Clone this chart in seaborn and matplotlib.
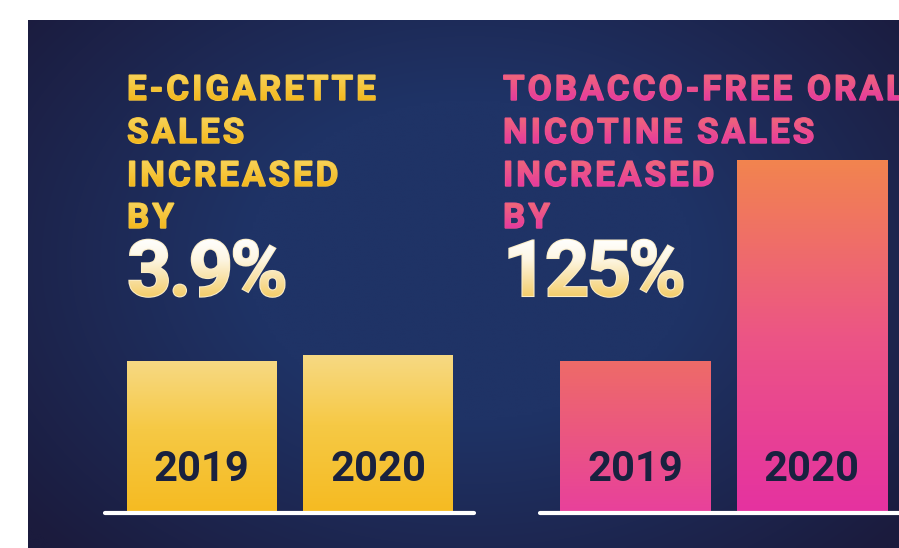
import numpy as np
import matplotlib
matplotlib.use("Agg")
import matplotlib.pyplot as plt
import seaborn as sns
from matplotlib.textpath import TextPath, TextToPath
from matplotlib.font_manager import FontProperties
from matplotlib.patches import PathPatch
from matplotlib.path import Path
from matplotlib.transforms import Affine2D
from matplotlib.colors import to_rgb

# Data
years = ["2019", "2020"]
ecig_sales = [100, 104]
nicotine_sales = [100, 234]
ecig_title = ["E-CIGARETTE", "SALES", "INCREASED", "BY"]
nicotine_title = ["TOBACCO-FREE ORAL", "NICOTINE SALES", "INCREASED", "BY"]
ecig_change = "3.9%"
nicotine_change = "125%"

W, H = 899, 548
FONT = "Roboto"

sns.set_style("white")
plt.rcParams["font.family"] = [FONT, "DejaVu Sans"]

fig = plt.figure(figsize=(W / 100, H / 100), dpi=100, facecolor="white")


def px_axes(x0, y0, x1, y1):
    return fig.add_axes([x0 / W, 1 - y1 / H, (x1 - x0) / W, (y1 - y0) / H])


def gradient(stops, n=200):
    # stops: list of (position 0..1 from top, colour)
    pos = np.linspace(0, 1, n)
    ps = [s[0] for s in stops]
    cols = np.array([to_rgb(s[1]) for s in stops])
    arr = np.stack([np.interp(pos, ps, cols[:, k]) for k in range(3)], axis=-1)
    return arr[:, None, :]


# Background: navy with darker, slightly purple edges
bg = fig.add_axes([0, 0, 1, 1])
bg.set_xlim(0, W)
bg.set_ylim(H, 0)
bg.axis("off")
gx, gy = np.meshgrid(np.linspace(28, W, 300), np.linspace(20, H, 200))
d = np.sqrt(((gx - 470) / 500) ** 2 + ((gy - 260) / 360) ** 2)
t = np.clip((d - 0.45) / 0.7, 0, 1)[..., None]
centre = np.array(to_rgb("#1f3366"))
edge = np.array(to_rgb("#1b1b3d"))
bg.imshow(centre * (1 - t) + edge * t, extent=[28, W, H, 20], aspect="auto",
          origin="upper", interpolation="bilinear")
bg.set_xlim(0, W)
bg.set_ylim(H, 0)


def panel(x0, x1, values, xlim, bar_stops):
    ax = px_axes(x0, 151, x1, 511)
    sns.barplot(x=years, y=values, ax=ax, width=0.85, color="white")
    for patch, stops in zip(ax.patches, bar_stops):
        bx, bw, bh = patch.get_x(), patch.get_width(), patch.get_height()
        ax.imshow(gradient(stops), extent=[bx, bx + bw, 0, bh], origin="upper",
                  aspect="auto", clip_path=patch, zorder=2)
        patch.set_facecolor("none")
        patch.set_edgecolor("none")
    for i, yr in enumerate(years):
        ax.text(i, 20, yr, ha="center", va="baseline", fontsize=30,
                fontweight="bold", color="#19213f", zorder=4)
    ax.axhline(-1, color="white", lw=3, solid_capstyle="round", clip_on=False, zorder=5)
    ax.set_xlim(*xlim)
    ax.set_ylim(0, 240)
    ax.axis("off")
    return ax


yellow = [(0, "#f7d983"), (0.45, "#f6c945"), (1, "#f5bb22")]
panel(105, 474, ecig_sales, (-0.547, 1.544), [yellow, yellow])
panel(540, W, nicotine_sales, (-0.541, 1.493),
      [[(0, "#ee6b68"), (1, "#e8419b")],
       [(0, "#f2844f"), (0.5, "#ec5585"), (1, "#e532a0")]])

# Overlay for headline text
ov = fig.add_axes([0, 0, 1, 1])
ov.set_facecolor("none")
ov.axis("off")
ttp = TextToPath()


def headline(s, x, base, size, stops, track=0.0, stroke=1.0):
    prop = FontProperties(family=FONT, weight="bold", size=size)
    paths = []
    for i, ch in enumerate(s):
        if ch == " ":
            continue
        off = 0.0
        if i > 0:
            off = ttp.get_text_width_height_descent(s[:i], prop, ismath=False)[0]
        paths.append(TextPath((off + i * track, 0), ch, size=size, prop=prop))
    path = Path.make_compound_path(*paths)
    path = path.transformed(Affine2D().scale(1, -1).translate(x, base))
    mid = gradient(stops, 3)[1, 0]
    ov.add_patch(PathPatch(path, facecolor=mid, edgecolor=mid, lw=stroke, zorder=2))
    patch = PathPatch(path, facecolor="none", edgecolor="none")
    ov.add_patch(patch)
    ext = path.get_extents()
    ov.imshow(gradient(stops), extent=[ext.x0, ext.x1, ext.y1, ext.y0],
              origin="upper", aspect="auto", clip_path=patch, zorder=3)


title_size = 35
bases = [100, 143, 186, 228]
ygrad = [(0, "#f8d35a"), (1, "#f3b81e")]
pgrad = [(0, "#f06878"), (1, "#e63a9f")]
big = [(0, "#ffffff"), (0.35, "#fdf6e3"), (1, "#f4cd6a")]
for line, b in zip(ecig_title, bases):
    headline(line, 127, b, title_size, ygrad, track=3.0)
for line, b in zip(nicotine_title, bases):
    headline(line, 503, b, title_size, pgrad, track=3.0)
headline(ecig_change, 127, 296, 78, big, track=-3, stroke=1.5)
headline(nicotine_change, 503, 296, 78, big, track=-3, stroke=1.5)

ov.set_xlim(0, W)
ov.set_ylim(H, 0)

fig.savefig("out.png", dpi=100, facecolor="white")
